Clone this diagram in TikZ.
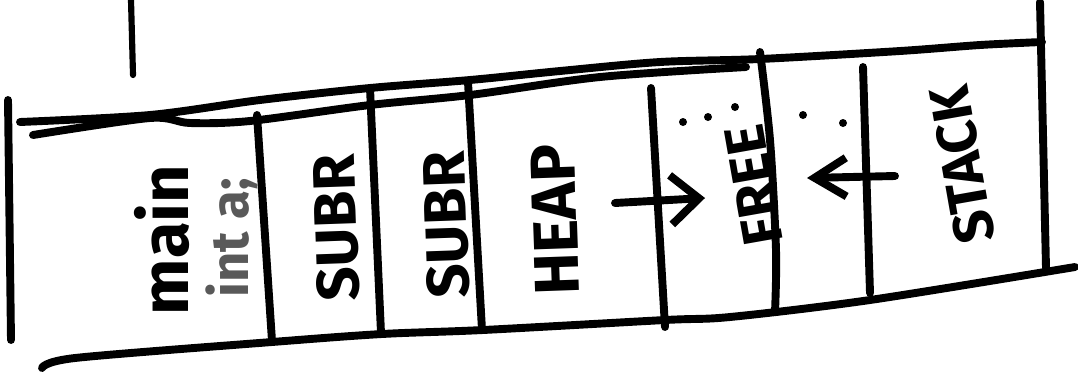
\documentclass[tikz,border=0pt]{standalone}
\usepackage{fontspec}
\setsansfont{Fira Sans}
\usetikzlibrary{arrows.meta}

\begin{document}
\begin{tikzpicture}[x=0.02cm, y=-0.02cm,
    pen/.style={line width=4.5pt, line cap=round, line join=round},
    woord/.style={font=\sffamily\bfseries\fontsize{#1}{#1}\selectfont, inner sep=0pt}]
    \useasboundingbox (0,0) rectangle (1078,373);

    % Kader
    \draw[pen] plot[smooth, tension=0.5] coordinates {(20,122) (150,115) (260,100) (370,88) (470,80) (560,71) (660,62) (760,59) (900,51) (980,45) (1042,42)};
    \draw[pen] plot[smooth, tension=0.5] coordinates {(33,135) (150,118) (190,123) (250,121) (370,105) (470,95) (600,77) (746,67)};
    \draw[pen] (8,100) -- (11,340);
    \draw[pen] plot[smooth, tension=0.5] coordinates {(42,368) (75,358) (272,342) (382,334) (483,330) (665,320) (730,317) (870,300) (1075,267)};
    \draw[pen] (1040,2) -- (1046,268);
    \draw[pen, line width=3.5pt] (131,0) -- (133,75);

    % Schotten
    \foreach \xa/\ya/\xb/\yb in {257/115/272/341, 370/88/381/333, 468/82/482/330, 651/88/665/327, 863/67/870/293}
        \draw[pen] (\xa,\ya) -- (\xb,\yb);
    \draw[pen] plot[smooth] coordinates {(760,52) (770,140) (776,250) (775,312)};

    % Labels
    \node[woord=38, rotate=90] (main) at (162,240) {main};
    \node[woord=30, rotate=90, text=black!65] (inta) at (232,238) {int a;};
    \node[woord=34, rotate=92] (subr1) at (336,228) {SUBR};
    \node[woord=34, rotate=92] (subr2) at (446,225) {SUBR};
    \node[woord=36, rotate=92] (heap) at (555,220) {HEAP};
    \node[woord=32, rotate=100] (free) at (754,185) {FREE};
    \node[woord=32, rotate=100] (stack) at (962,165) {STACK};

    % Pijlen
    \coordinate (heapgrens) at (615,203);
    \coordinate (vrijin) at (705,198);
    \coordinate (stackgrens) at (895,176);
    \coordinate (vrijuit) at (807,178);
    \draw[pen, -{Straight Barb[length=16pt, width=28pt]}] (heapgrens) -- (vrijin);
    \draw[pen, -{Straight Barb[length=18pt, width=22pt]}] (stackgrens) -- (vrijuit);

    % Puntjes
    \foreach \p in {(683,122), (708,117), (735,107), (803,115), (843,123)}
        \fill \p circle[radius=4];
\end{tikzpicture}
\end{document}
